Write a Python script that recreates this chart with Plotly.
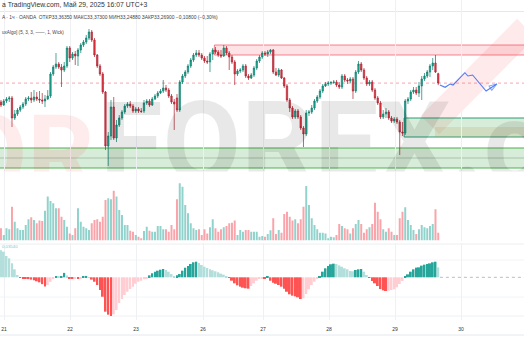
import plotly.graph_objects as go

# ---------------- data ----------------
bar_index = list(range(160))

opens = [33.08, 33.05, 33.09, 33.11, 33.12, 32.92, 32.96, 33.00, 33.03, 33.06,
         33.11, 33.12, 33.10, 33.13, 33.11, 33.10, 33.09, 33.11, 33.14, 33.36,
         33.43, 33.46, 33.43, 33.40, 33.44, 33.62, 33.52, 33.56, 33.54, 33.60,
         33.65, 33.68, 33.72, 33.78, 33.70, 33.55, 33.44, 33.36, 33.18, 32.64,
         32.74, 33.03, 32.72, 32.85, 32.92, 32.98, 33.04, 33.06, 33.04, 32.99,
         33.01, 32.99, 32.99, 33.07, 33.09, 33.05, 33.11, 33.14, 33.17, 33.19,
         33.22, 33.20, 33.14, 33.08, 33.12, 33.00, 33.28, 33.34, 33.38, 33.44,
         33.50, 33.55, 33.57, 33.55, 33.52, 33.49, 33.48, 33.56, 33.60, 33.58,
         33.55, 33.54, 33.62, 33.57, 33.53, 33.48, 33.36, 33.39, 33.40, 33.44,
         33.34, 33.32, 33.35, 33.42, 33.49, 33.53, 33.57, 33.56, 33.58, 33.60,
         33.38, 33.35, 33.40, 33.32, 33.24, 33.10, 33.02, 32.93, 32.99, 32.93,
         32.82, 32.76, 32.97, 32.98, 33.02, 33.09, 33.13, 33.19, 33.24, 33.26,
         33.27, 33.275, 33.28, 33.25, 33.23, 33.34, 33.30, 33.29, 33.31, 33.19,
         33.38, 33.46, 33.40, 33.32, 33.26, 33.28, 33.20, 33.12, 33.07, 32.93,
         32.96, 32.98, 32.92, 32.89, 32.91, 32.88, 32.78, 32.77, 33.09, 33.11,
         33.18, 33.20, 33.17, 33.24, 33.31, 33.34, 33.38, 33.44, 33.47, 33.3635]
highs = [33.10, 33.11, 33.13, 33.14, 33.14, 33.00, 33.02, 33.05, 33.08, 33.13,
         33.14, 33.18, 33.20, 33.18, 33.19, 33.17, 33.15, 33.20, 33.38, 33.45,
         33.57, 33.48, 33.46, 33.48, 33.64, 33.64, 33.58, 33.59, 33.62, 33.67,
         33.70, 33.75, 33.81, 33.80, 33.72, 33.56, 33.46, 33.38, 33.19, 32.78,
         33.10, 33.13, 32.90, 32.95, 33.00, 33.06, 33.08, 33.09, 33.06, 33.03,
         33.03, 33.02, 33.10, 33.11, 33.11, 33.13, 33.16, 33.19, 33.21, 33.30,
         33.25, 33.22, 33.16, 33.11, 33.16, 33.30, 33.36, 33.40, 33.46, 33.52,
         33.57, 33.60, 33.60, 33.57, 33.54, 33.54, 33.58, 33.62, 33.63, 33.60,
         33.60, 33.65, 33.64, 33.59, 33.55, 33.50, 33.41, 33.42, 33.46, 33.46,
         33.36, 33.37, 33.44, 33.51, 33.55, 33.59, 33.59, 33.60, 33.61, 33.61,
         33.42, 33.42, 33.41, 33.33, 33.26, 33.12, 33.04, 33.01, 33.01, 32.95,
         32.84, 33.00, 33.00, 33.05, 33.11, 33.15, 33.21, 33.26, 33.28, 33.29,
         33.29, 33.30, 33.30, 33.28, 33.36, 33.36, 33.32, 33.33, 33.33, 33.40,
         33.49, 33.48, 33.42, 33.34, 33.30, 33.30, 33.22, 33.14, 33.09, 33.00,
         33.02, 33.00, 32.94, 32.93, 32.93, 32.90, 32.88, 33.11, 33.13, 33.20,
         33.23, 33.23, 33.28, 33.34, 33.37, 33.40, 33.46, 33.52, 33.55, 33.373]
lows = [33.03, 33.04, 33.07, 33.08, 32.83, 32.90, 32.94, 32.98, 33.01, 33.04,
        33.09, 33.07, 33.08, 33.09, 33.07, 33.06, 33.03, 33.10, 33.12, 33.34,
        33.41, 33.41, 33.23, 33.38, 33.42, 33.48, 33.50, 33.45, 33.44, 33.57,
        33.63, 33.66, 33.70, 33.68, 33.53, 33.42, 33.34, 33.16, 32.60, 32.44,
        32.70, 32.70, 32.68, 32.83, 32.90, 32.96, 33.02, 33.02, 32.97, 32.97,
        32.97, 32.97, 32.97, 33.05, 33.03, 33.04, 33.10, 33.12, 33.16, 33.17,
        33.18, 33.12, 33.06, 32.80, 32.98, 32.98, 33.26, 33.32, 33.36, 33.42,
        33.48, 33.53, 33.53, 33.50, 33.47, 33.46, 33.38, 33.50, 33.56, 33.53,
        33.52, 33.53, 33.55, 33.40, 33.46, 33.25, 33.34, 33.37, 33.38, 33.32,
        33.30, 33.31, 33.33, 33.40, 33.47, 33.51, 33.54, 33.53, 33.56, 33.36,
        33.34, 33.33, 33.31, 33.22, 33.08, 32.98, 32.91, 32.91, 32.91, 32.80,
        32.63, 32.74, 32.94, 32.96, 33.00, 33.07, 33.11, 33.17, 33.23, 33.24,
        33.25, 33.26, 33.23, 33.21, 33.21, 33.28, 33.26, 33.27, 33.11, 33.17,
        33.36, 33.38, 33.30, 33.24, 33.24, 33.18, 33.10, 33.05, 32.91, 32.91,
        32.92, 32.90, 32.87, 32.87, 32.86, 32.55, 32.74, 32.75, 33.06, 33.09,
        33.16, 33.15, 33.13, 33.10, 33.29, 33.32, 33.33, 33.40, 33.37, 33.2488]
closes = [33.05, 33.09, 33.11, 33.12, 32.92, 32.96, 33.00, 33.03, 33.06, 33.11,
          33.12, 33.10, 33.13, 33.11, 33.10, 33.09, 33.11, 33.14, 33.36, 33.43,
          33.46, 33.43, 33.40, 33.44, 33.62, 33.52, 33.56, 33.54, 33.60, 33.65,
          33.68, 33.72, 33.78, 33.70, 33.55, 33.44, 33.36, 33.18, 32.64, 32.74,
          33.03, 32.72, 32.85, 32.92, 32.98, 33.04, 33.06, 33.04, 32.99, 33.01,
          32.99, 32.985, 33.07, 33.09, 33.05, 33.11, 33.14, 33.17, 33.19, 33.22,
          33.20, 33.14, 33.08, 33.06, 33.00, 33.28, 33.34, 33.38, 33.44, 33.50,
          33.55, 33.57, 33.55, 33.52, 33.49, 33.48, 33.56, 33.60, 33.58, 33.55,
          33.54, 33.62, 33.57, 33.53, 33.48, 33.36, 33.39, 33.40, 33.44, 33.34,
          33.32, 33.35, 33.42, 33.49, 33.53, 33.57, 33.56, 33.58, 33.60, 33.38,
          33.35, 33.40, 33.32, 33.24, 33.10, 33.02, 32.93, 32.99, 32.93, 32.82,
          32.76, 32.97, 32.98, 33.02, 33.09, 33.13, 33.19, 33.24, 33.26, 33.27,
          33.275, 33.28, 33.25, 33.23, 33.34, 33.30, 33.29, 33.31, 33.19, 33.38,
          33.46, 33.40, 33.32, 33.26, 33.28, 33.20, 33.12, 33.07, 32.93, 32.96,
          32.98, 32.92, 32.89, 32.91, 32.88, 32.78, 32.77, 33.09, 33.11, 33.18,
          33.20, 33.17, 33.24, 33.31, 33.34, 33.38, 33.44, 33.47, 33.38, 33.269]

volumes = [1060, 480, 1060, 970, 2940, 1640, 1060, 910, 910, 1350,
           1840, 2020, 1780, 1490, 1730, 1700, 2590, 3820, 3440, 3230,
           2800, 2800, 2070, 1780, 1200, 620, 480, 1060, 2800, 1640,
           1200, 1060, 910, 1490, 1780, 1840, 1640, 2070, 3520, 3670,
           3580, 4330, 3820, 2650, 2220, 1350, 1350, 850, 770, 480,
           330, 190, 830, 1200, 850, 770, 770, 1260, 1260, 970,
           970, 770, 1350, 970, 3580, 4970, 4680, 3090, 2360, 1490,
           1060, 910, 970, 480, 970, 620, 1150, 1840, 1060, 770,
           970, 1150, 1260, 1490, 1550, 1730, 480, 910, 770, 910,
           910, 770, 770, 770, 330, 390, 330, 570, 900, 1930,
           570, 910, 680, 2310, 2500, 2070, 1730, 1840, 1490, 1840,
           2940, 4740, 3090, 1930, 1350, 970, 680, 680, 620, 190,
           330, 280, 480, 1440, 1260, 1060, 970, 620, 1060, 1440,
           1780, 1440, 680, 970, 1150, 1440, 3290, 2500, 1840, 970,
           770, 1060, 770, 480, 480, 1930, 2500, 2890, 1780, 1350,
           910, 570, 970, 1350, 1150, 1060, 1260, 1440, 2710, 680]

osc = [0.0354, 0.0336, 0.0280, 0.0249, 0.0184, 0.0105, 0.0030, -0.0008, -0.0013, -0.0018,
       -0.0024, -0.0030, -0.0040, -0.0052, -0.0066, -0.0090, -0.0120, -0.0100, -0.0060, -0.0010,
       0.0012, 0.0008, 0.0012, 0.0058, 0.0025, -0.0012, -0.0015, -0.0013, -0.0016, -0.0010,
       0.0005, 0.0018, 0.0004, -0.0030, -0.0058, -0.0101, -0.0167, -0.0255, -0.0451, -0.0490,
       -0.0508, -0.0486, -0.0429, -0.0337, -0.0285, -0.0232, -0.0189, -0.0154, -0.0123, -0.0084,
       -0.0058, -0.0045, -0.0025, -0.0010, 0.0026, 0.0053, 0.0074, 0.0087, 0.0100, 0.0109,
       0.0096, 0.0074, 0.0043, 0.0017, 0.0026, 0.0043, 0.0087, 0.0126, 0.0149, 0.0175,
       0.0197, 0.0205, 0.0188, 0.0162, 0.0139, 0.0122, 0.0105, 0.0092, 0.0079, 0.0066,
       0.0048, 0.0035, 0.0017, -0.0009, -0.0044, -0.0079, -0.0105, -0.0123, -0.0136, -0.0144,
       -0.0149, -0.0114, -0.0079, -0.0044, -0.0018, -0.0010, -0.0020, 0.0008, -0.0045, -0.0071,
       -0.0084, -0.0101, -0.0123, -0.0150, -0.0189, -0.0223, -0.0241, -0.0250, -0.0262, -0.0285,
       -0.0276, -0.0219, -0.0157, -0.0101, -0.0058, -0.0020, 0.0017, 0.0074, 0.0118, 0.0149,
       0.0171, 0.0179, 0.0175, 0.0157, 0.0139, 0.0118, 0.0105, 0.0083, 0.0079, 0.0096,
       0.0105, 0.0109, 0.0074, 0.0030, -0.0005, -0.0048, -0.0079, -0.0114, -0.0154, -0.0171,
       -0.0180, -0.0175, -0.0167, -0.0157, -0.0131, -0.0088, -0.0048, 0.0008, 0.0039, 0.0074,
       0.0105, 0.0127, 0.0131, 0.0153, 0.0166, 0.0175, 0.0183, 0.0197, 0.0205, 0.0131]

day_ticks = [1.1, 25.1, 49.1, 73.5, 95.3, 119.3, 143.3, 167.3]
day_labels = ["21", "22", "23", "26", "27", "28", "29", "30"]

resist_lo, resist_hi, resist_start = 33.55, 33.65, 77.6
support_lo, support_hi, support_mid = 32.42, 32.62, 32.52
demand_lo, demand_hi, demand_mid, demand_start = 32.73, 32.92, 32.83, 146.6
last_price = 33.269

proj_x = [159.6, 161.5, 163.3, 164.4, 168.7, 169.8, 171.5, 176.4, 180.3]
proj_y = [33.25, 33.227, 33.26, 33.25, 33.373, 33.34, 33.35, 33.19, 33.26]

header1 = "а TradingView.com, Май 29, 2025 16:07 UTC+3"
header2 = "A · 1ч · OANDA  ОТКР33,36350 МАКС33,37300 МИН33,24880 ЗАКР33,26900 −0,10800 (−0,30%)"
header3 = "uxAlgo] (5, 3, 3, ——, 1, Wick)"
osc_label = "0,03540"
wm_main, wm_left = "FOREX.com", "OR"

# ---------------- styling helpers ----------------
X0, X1 = -0.36, 190.19
UP, DN = "#22ab94", "#f23645"
UP_LINE, DN_LINE = "#0c7d6c", "#a8232f"

vol_colors = ["rgba(38,166,154,0.5)" if c >= o else "rgba(242,54,69,0.45)"
              for o, c in zip(opens, closes)]
osc_colors = []
for k, v in enumerate(osc):
    prev = osc[k - 1] if k > 0 else v + 1
    if v >= 0:
        osc_colors.append("#26a69a" if v >= prev else "#b2dfdb")
    else:
        osc_colors.append("#ff5252" if v <= prev else "#ffcdd2")

fig = go.Figure()

# watermark (drawn first so it stays behind the candles)
WM_FAMILY = "Roboto, Lato, Liberation Sans"
fig.add_trace(go.Scatter(x=[36.0], y=[32.57], mode="text", text=[wm_main],
                         textposition="middle right",
                         textfont=dict(family=WM_FAMILY, size=114, weight="bold",
                                       color="rgba(0,0,0,0.09)"),
                         hoverinfo="skip"))
fig.add_trace(go.Scatter(x=[34.0], y=[32.46], mode="text", text=[wm_left],
                         textposition="middle left",
                         textfont=dict(family=WM_FAMILY, size=105, weight="bold",
                                       color="rgba(242,54,69,0.10)"),
                         hoverinfo="skip"))

fig.add_trace(go.Candlestick(
    x=bar_index, open=opens, high=highs, low=lows, close=closes,
    increasing=dict(fillcolor=UP, line=dict(color=UP_LINE, width=0.7)),
    decreasing=dict(fillcolor=DN, line=dict(color=DN_LINE, width=0.7)),
    whiskerwidth=0, hoverinfo="skip"))

fig.add_trace(go.Bar(x=bar_index, y=volumes, marker=dict(color=vol_colors, line=dict(width=0)),
                     width=0.72, yaxis="y2", hoverinfo="skip"))
fig.add_trace(go.Bar(x=bar_index, y=osc, marker=dict(color=osc_colors, line=dict(width=0)),
                     width=0.72, yaxis="y3", hoverinfo="skip"))

fig.add_trace(go.Scatter(x=proj_x, y=proj_y, mode="lines+markers",
                         line=dict(color="#4f7df5", width=1.1),
                         marker=dict(size=[0] * (len(proj_x) - 1) + [8], symbol="arrow-open",
                                     angleref="previous", color="#4f7df5",
                                     line=dict(color="#4f7df5", width=1.1)),
                         hoverinfo="skip"))

shapes = []
# pink watermark arrow stroke
shapes.append(dict(type="line", xref="x", yref="y", x0=156.0, y0=32.85, x1=191.0, y1=33.82,
                   line=dict(color="rgba(242,54,69,0.11)", width=26), layer="below"))
# zones
shapes.append(dict(type="rect", xref="x", yref="y", x0=resist_start, x1=X1 + 1,
                   y0=resist_lo, y1=resist_hi, fillcolor="rgba(242,54,69,0.14)",
                   line=dict(color="rgba(242,54,69,0.6)", width=1), layer="below"))
shapes.append(dict(type="rect", xref="x", yref="y", x0=X0 - 1, x1=X1 + 1,
                   y0=support_lo, y1=support_hi, fillcolor="rgba(76,175,80,0.22)",
                   line=dict(color="#4caf50", width=1), layer="below"))
shapes.append(dict(type="line", xref="x", yref="y", x0=X0, x1=X1, y0=support_mid, y1=support_mid,
                   line=dict(color="rgba(110,140,110,0.45)", width=1), layer="below"))
shapes.append(dict(type="rect", xref="x", yref="y", x0=demand_start, x1=X1 + 1,
                   y0=demand_lo, y1=demand_hi, fillcolor="rgba(76,175,80,0.22)",
                   line=dict(color="#2a9d78", width=1), layer="below"))
shapes.append(dict(type="rect", xref="x", yref="y", x0=157.8, x1=X1 + 1,
                   y0=demand_lo, y1=demand_mid, fillcolor="rgba(170,130,60,0.16)",
                   line=dict(width=0), layer="below"))
# current price line
shapes.append(dict(type="line", xref="x", yref="y", x0=X0, x1=X1, y0=last_price, y1=last_price,
                   line=dict(color="rgba(242,54,69,0.45)", width=1, dash="dot"), layer="below"))
# oscillator zero line in the future area
shapes.append(dict(type="line", xref="x", yref="y3", x0=159.6, x1=X1, y0=0, y1=0,
                   line=dict(color="#b8bcc6", width=1, dash="dot"), layer="below"))
# horizontal pane grid / separators (pixels -> paper)
for py, col in [(11.5, "#e6e8ee"), (193, "#f3f4f7"), (220, "#f3f4f7"), (244, "#eceef2"),
                (260, "#f3f4f7"), (297, "#f3f4f7"), (316, "#eef0f3"), (335, "#e6e8ee")]:
    yp = 1 - py / 320.0
    shapes.append(dict(type="line", xref="paper", yref="paper", x0=0, x1=1, y0=yp, y1=yp,
                       line=dict(color=col, width=1), layer="below"))

annotations = [
    dict(text=header1, x=0.0, y=1 - 5 / 320, xref="paper", yref="paper", xanchor="left",
         yanchor="middle", showarrow=False,
         font=dict(family="Liberation Sans", size=6.8, color="#333333")),
    dict(text=header2, x=0.0, y=1 - 17.5 / 320, xref="paper", yref="paper", xanchor="left",
         yanchor="middle", showarrow=False,
         font=dict(family="Liberation Sans", size=4.9, color="#444444")),
    dict(text=header3, x=0.0, y=1 - 32.5 / 320, xref="paper", yref="paper", xanchor="left",
         yanchor="middle", showarrow=False,
         font=dict(family="Liberation Sans", size=4.6, color="#444444")),
    dict(text=osc_label, x=0.0, y=1 - 246 / 320, xref="paper", yref="paper", xanchor="left",
         yanchor="middle", showarrow=False,
         font=dict(family="Liberation Sans", size=4.3, color="#80cbc4")),
]

fig.update_layout(
    width=524, height=350, margin=dict(l=0, r=0, t=0, b=30),
    paper_bgcolor="white", plot_bgcolor="white", showlegend=False,
    barmode="overlay", shapes=shapes, annotations=annotations,
    xaxis=dict(range=[X0, X1], tickmode="array", tickvals=day_ticks, ticktext=day_labels,
               showgrid=True, gridcolor="#eef0f3", gridwidth=1, zeroline=False,
               showline=False, ticks="", anchor="y3", ticklabelstandoff=5,
               tickfont=dict(family="Liberation Sans", size=5, color="#333333"),
               rangeslider=dict(visible=False), fixedrange=True),
    yaxis=dict(domain=[0.25, 1.0], range=[31.70, 34.10], visible=False, fixedrange=True),
    yaxis2=dict(domain=[0.2484, 0.4641], range=[0, 6000], visible=False, fixedrange=True),
    yaxis3=dict(domain=[0.0, 0.2406], range=[-0.0560, 0.0450], visible=False, fixedrange=True),
)

fig.write_html("out.html")
